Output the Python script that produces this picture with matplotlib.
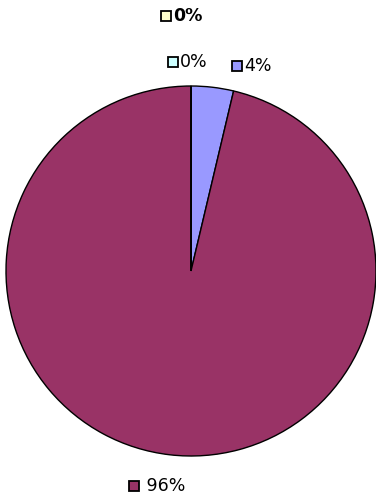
import matplotlib.pyplot as plt

labels = ["4%", " 96%", "0%", "0%"]
values = [3.7, 96.3, 0.0, 0.0]
colors = ["#9999FF", "#993366", "#CCFFFF", "#FFFFCC"]
bold = [False, False, False, True]

# label marker positions (in pie-radius units), placed by hand like Excel does
label_pos = [(0.25, 1.11), (-0.31, -1.16), (-0.10, 1.13), (-0.135, 1.38)]

fig = plt.figure(figsize=(3.76, 4.99), dpi=100)
cx, cy, r = 191, 271, 185
ax = fig.add_axes([(cx - r) / 376, (499 - cy - r) / 499, 2 * r / 376, 2 * r / 499])

wedges, _ = ax.pie(values, colors=colors, startangle=90, counterclock=False,
                   radius=1, wedgeprops=dict(edgecolor="black", linewidth=1))
ax.set_xlim(-1, 1)
ax.set_ylim(-1, 1)
ax.set_aspect("equal")
ax.axis("off")

for (x, y), lab, c, b in zip(label_pos, labels, colors, bold):
    ax.plot(x, y, marker="s", markersize=7.5, markerfacecolor=c,
            markeredgecolor="black", markeredgewidth=1.3, clip_on=False)
    ax.text(x + 0.04, y, lab, fontsize=12.5, va="center", ha="left",
            fontweight="semibold" if b else "normal", clip_on=False)

fig.savefig("out.png", dpi=100)
